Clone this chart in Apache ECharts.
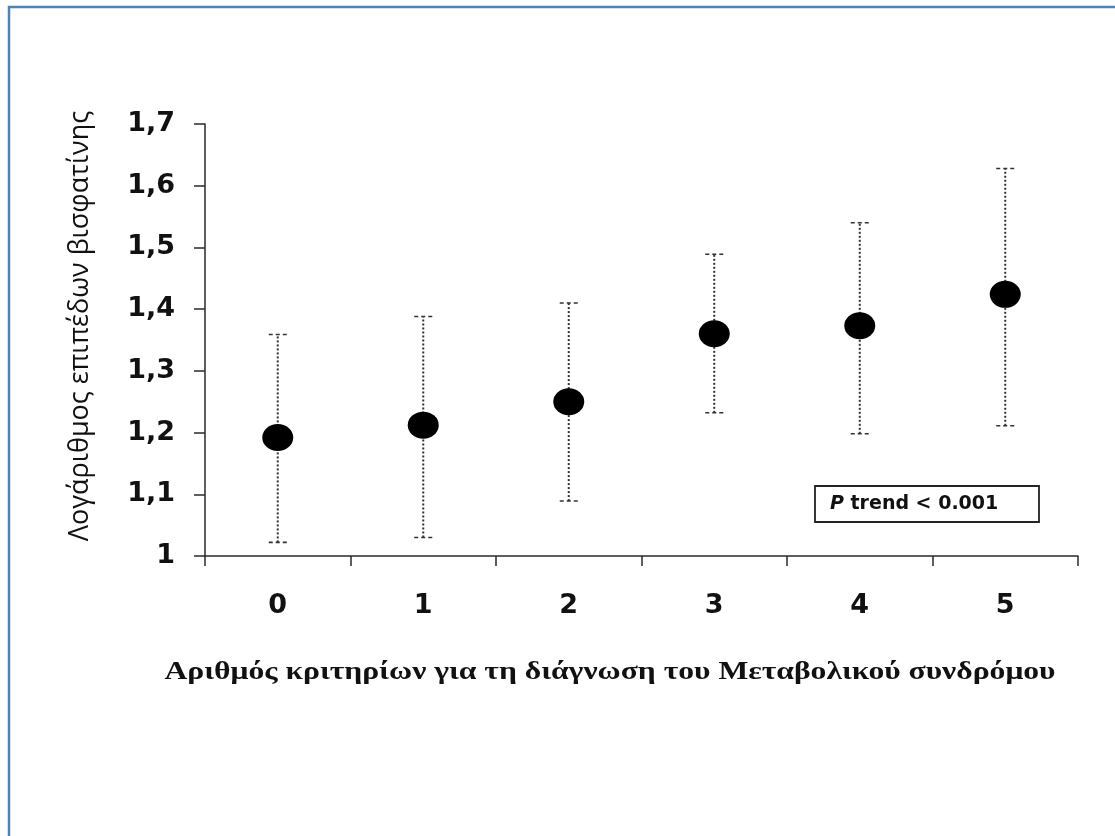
<!DOCTYPE html>
<html>
<head>
<meta charset="utf-8">
<title>Βισφατίνη και μεταβολικό σύνδρομο</title>
<script src="https://cdn.jsdelivr.net/npm/echarts@6/dist/echarts.min.js"></script>
<style>
  html, body { margin: 0; padding: 0; background: #ffffff; }
  #chart { width: 1115px; height: 836px; }
</style>
</head>
<body>
<div id="chart"></div>
<script>
// Number of metabolic syndrome criteria (x) vs. log visfatin level (y)
const categories = ['0', '1', '2', '3', '4', '5'];
const meanValues = [1.192, 1.212, 1.250, 1.360, 1.373, 1.424];
const lowerValues = [1.022, 1.030, 1.089, 1.232, 1.198, 1.211];
const upperValues = [1.359, 1.388, 1.410, 1.489, 1.540, 1.628];
const yTicks = { min: 1, max: 1.7, step: 0.1 };

const yAxisTitle = 'Λογάριθμος επιπέδων βισφατίνης';
const xAxisTitle = 'Αριθμός κριτηρίων για τη διάγνωση του Μεταβολικού συνδρόμου';
const trendNote = 'P trend < 0.001';

const errorData = categories.map((c, i) => [i, lowerValues[i], upperValues[i]]);

const axisColor = '#2a2a2a';
const tickFont = { fontFamily: 'DejaVu Sans', fontWeight: 'bold', fontSize: 27, color: '#111' };

const chart = echarts.init(document.getElementById('chart'), null, { renderer: 'canvas' });

chart.setOption({
  backgroundColor: '#ffffff',
  animation: false,
  grid: { left: 205, right: 37, top: 124, bottom: 280, containLabel: false },
  xAxis: {
    type: 'category',
    data: categories,
    boundaryGap: true,
    axisLine: { show: true, lineStyle: { color: axisColor, width: 1.5 } },
    axisTick: { show: true, length: 10, lineStyle: { color: axisColor, width: 1.5 } },
    axisLabel: Object.assign({ margin: 36 }, tickFont),
    splitLine: { show: false }
  },
  yAxis: {
    type: 'value',
    min: yTicks.min,
    max: yTicks.max,
    interval: yTicks.step,
    axisLine: { show: true, lineStyle: { color: axisColor, width: 1.5 } },
    axisTick: { show: true, length: 11, lineStyle: { color: axisColor, width: 1.5 } },
    axisLabel: Object.assign({
      margin: 30,
      formatter: v => (Math.round(v * 10) / 10).toString().replace('.', ',')
    }, tickFont),
    splitLine: { show: false }
  },
  series: [
    {
      type: 'custom',
      name: 'range',
      z: 1,
      data: errorData,
      encode: { x: 0, y: [1, 2] },
      renderItem: function (params, api) {
        const x = api.value(0);
        const lo = api.coord([x, api.value(1)]);
        const hi = api.coord([x, api.value(2)]);
        const capHalf = 9;
        const dotted = { stroke: '#333', lineWidth: 2, lineDash: [2, 2] };
        const capStyle = { stroke: '#333', lineWidth: 1.6, lineDash: [4, 3] };
        return {
          type: 'group',
          children: [
            { type: 'line', shape: { x1: lo[0], y1: lo[1], x2: hi[0], y2: hi[1] }, style: dotted },
            { type: 'line', shape: { x1: hi[0] - capHalf, y1: hi[1], x2: hi[0] + capHalf, y2: hi[1] }, style: capStyle },
            { type: 'line', shape: { x1: lo[0] - capHalf, y1: lo[1], x2: lo[0] + capHalf, y2: lo[1] }, style: capStyle }
          ]
        };
      }
    },
    {
      type: 'scatter',
      name: 'mean',
      z: 3,
      data: meanValues,
      symbol: 'circle',
      symbolSize: [31, 27],
      itemStyle: { color: '#000000', opacity: 1 }
    }
  ],
  graphic: [
    {
      type: 'polyline',
      shape: { points: [[9, 836], [9, 7], [1115, 7]] },
      style: { stroke: '#4f81bd', lineWidth: 2.5, fill: null },
      silent: true
    },
    {
      type: 'text',
      x: 80,
      y: 326,
      rotation: Math.PI / 2,
      style: {
        text: yAxisTitle,
        fontFamily: 'Open Sans',
        fontSize: 27,
        fill: '#111',
        align: 'center',
        verticalAlign: 'middle'
      }
    },
    {
      type: 'text',
      x: 610,
      y: 672,
      scaleX: 1.216,
      style: {
        text: xAxisTitle,
        fontFamily: 'Liberation Serif',
        fontWeight: 'bold',
        fontSize: 26,
        fill: '#111',
        align: 'center',
        verticalAlign: 'middle'
      }
    },
    {
      type: 'group',
      x: 815,
      y: 486,
      children: [
        {
          type: 'rect',
          shape: { x: 0, y: 0, width: 224, height: 36 },
          style: { fill: '#ffffff', stroke: '#222', lineWidth: 1.8 }
        },
        {
          type: 'text',
          x: 15,
          y: 18,
          style: {
            rich: {
              p: { fontFamily: 'DejaVu Sans', fontWeight: 'bold', fontStyle: 'italic', fontSize: 19, fill: '#111' },
              t: { fontFamily: 'DejaVu Sans', fontWeight: 'bold', fontSize: 19, fill: '#111' }
            },
            text: '{p|P}{t|' + trendNote.slice(1) + '}',
            verticalAlign: 'middle',
            align: 'left'
          }
        }
      ]
    }
  ]
});
</script>
</body>
</html>
